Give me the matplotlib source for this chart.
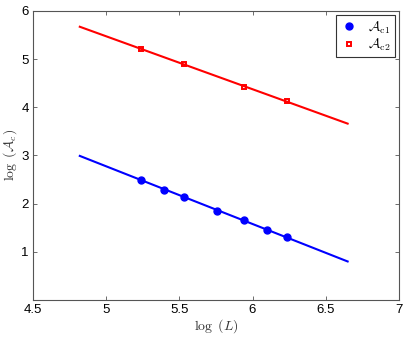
import numpy as np
import matplotlib
matplotlib.use("Agg")
import matplotlib.pyplot as plt

plt.rcParams['mathtext.fontset'] = 'cm'
plt.rcParams['font.family'] = ['Liberation Sans', 'DejaVu Sans']

# data
logL_c1 = [5.235, 5.392, 5.529, 5.755, 5.943, 6.098, 6.235]
logA_c1 = [2.50, 2.29, 2.13, 1.85, 1.65, 1.46, 1.31]
logL_c2 = [5.235, 5.532, 5.943, 6.235]
logA_c2 = [5.21, 4.90, 4.43, 4.13]

# fitted lines (end points)
fit_x = [4.82, 6.65]
fit_c1 = [2.99, 0.80]
fit_c2 = [5.67, 3.66]

fig = plt.figure(figsize=(4.07, 3.39), dpi=100)
ax = fig.add_axes([0.081, 0.115, 0.899, 0.853])

ax.plot(fit_x, fit_c1, color='blue', lw=1.5)
ax.plot(fit_x, fit_c2, color='red', lw=1.5)
ax.plot(logL_c1, logA_c1, 'o', color='blue', ms=5, label=r'$\mathcal{A}_{\mathrm{c}1}$')
ax.plot(logL_c2, logA_c2, 's', color='red', mfc='none', ms=3.5, mew=1.4,
        label=r'$\mathcal{A}_{\mathrm{c}2}$')

ax.set_xlim(4.5, 7)
ax.set_ylim(0, 6)
ax.set_xticks([4.5, 5, 5.5, 6, 6.5, 7])
ax.set_xticklabels(['4.5', '5', '5.5', '6', '6.5', '7'])
ax.set_yticks([1, 2, 3, 4, 5, 6])

ax.tick_params(direction='in', top=True, right=True, length=3, width=0.6,
               labelsize=9.5, colors='#555555', labelcolor='black', pad=3)
for s in ax.spines.values():
    s.set_color('#555555')
    s.set_linewidth(0.8)

ax.set_xlabel(r'$\log\ (L)$', fontsize=10, labelpad=1, color='#333333')
ax.set_ylabel(r'$\log\ (\mathcal{A}_c)$', fontsize=10, labelpad=2, color='#333333')

leg = ax.legend(loc='upper right', fontsize=10, fancybox=False, framealpha=1,
                edgecolor='#333333', borderpad=0.3, handlelength=1.2,
                handletextpad=0.8, labelspacing=0.1, borderaxespad=0.3)
leg.get_frame().set_linewidth(0.8)

fig.savefig('out.png', dpi=100)
